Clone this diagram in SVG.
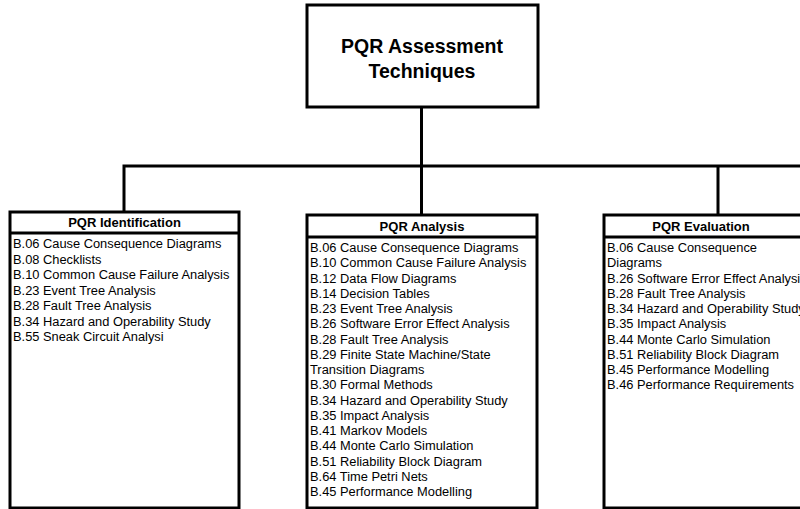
<svg xmlns="http://www.w3.org/2000/svg" width="800" height="509" viewBox="0 0 800 509">
<style>
.box{fill:#fff;stroke:#000;stroke-width:3}
.ln{fill:none;stroke:#000;stroke-width:3}
.t{font-family:"Liberation Sans",Arial,sans-serif;font-size:12.85px;fill:#000}
.h{font-family:"Liberation Sans",Arial,sans-serif;font-size:13px;font-weight:bold;fill:#000;text-anchor:middle}
.title{font-family:"Liberation Sans",Arial,sans-serif;font-size:19.5px;font-weight:bold;fill:#000;text-anchor:middle}
</style>
<rect width="800" height="509" fill="#fff"/>
<g id="connectors">
<path class="ln" d="M421.5,107 V166 M124,214 V166 H810 M421.5,166 V216 M718,166 V216"/>
</g>
<g id="root">
<rect class="box" x="307" y="5" width="231" height="102"/>
<text class="title" x="422" y="53">PQR Assessment</text>
<text class="title" x="422" y="78">Techniques</text>
</g>
<g id="identification">
<rect class="box" x="10" y="212" width="229" height="296"/>
<line class="ln" x1="10" y1="233" x2="239" y2="233"/>
<text class="h" x="124.5" y="227">PQR Identification</text>
<text class="t" x="13" y="248">B.06 Cause Consequence Diagrams</text>
<text class="t" x="13" y="263.5">B.08 Checklists</text>
<text class="t" x="13" y="279">B.10 Common Cause Failure Analysis</text>
<text class="t" x="13" y="294.5">B.23 Event Tree Analysis</text>
<text class="t" x="13" y="310">B.28 Fault Tree Analysis</text>
<text class="t" x="13" y="325.5">B.34 Hazard and Operability Study</text>
<text class="t" x="13" y="341">B.55 Sneak Circuit Analysi</text>
</g>
<g id="analysis">
<rect class="box" x="307" y="215" width="230" height="293"/>
<line class="ln" x1="307" y1="237" x2="537" y2="237"/>
<text class="h" x="422" y="231">PQR Analysis</text>
<text class="t" x="310" y="252">B.06 Cause Consequence Diagrams</text>
<text class="t" x="310" y="267.3">B.10 Common Cause Failure Analysis</text>
<text class="t" x="310" y="282.5">B.12 Data Flow Diagrams</text>
<text class="t" x="310" y="297.8">B.14 Decision Tables</text>
<text class="t" x="310" y="313">B.23 Event Tree Analysis</text>
<text class="t" x="310" y="328.3">B.26 Software Error Effect Analysis</text>
<text class="t" x="310" y="343.5">B.28 Fault Tree Analysis</text>
<text class="t" x="310" y="358.8">B.29 Finite State Machine/State</text>
<text class="t" x="310" y="374">Transition Diagrams</text>
<text class="t" x="310" y="389.3">B.30 Formal Methods</text>
<text class="t" x="310" y="404.5">B.34 Hazard and Operability Study</text>
<text class="t" x="310" y="419.8">B.35 Impact Analysis</text>
<text class="t" x="310" y="435">B.41 Markov Models</text>
<text class="t" x="310" y="450.3">B.44 Monte Carlo Simulation</text>
<text class="t" x="310" y="465.5">B.51 Reliability Block Diagram</text>
<text class="t" x="310" y="480.8">B.64 Time Petri Nets</text>
<text class="t" x="310" y="496">B.45 Performance Modelling</text>
</g>
<g id="evaluation">
<rect class="box" x="604" y="215" width="230" height="293"/>
<line class="ln" x1="604" y1="237" x2="834" y2="237"/>
<text class="h" x="701" y="231">PQR Evaluation</text>
<text class="t" x="607" y="252">B.06 Cause Consequence</text>
<text class="t" x="607" y="267.3">Diagrams</text>
<text class="t" x="607" y="282.5">B.26 Software Error Effect Analysis</text>
<text class="t" x="607" y="297.8">B.28 Fault Tree Analysis</text>
<text class="t" x="607" y="313">B.34 Hazard and Operability Study</text>
<text class="t" x="607" y="328.3">B.35 Impact Analysis</text>
<text class="t" x="607" y="343.5">B.44 Monte Carlo Simulation</text>
<text class="t" x="607" y="358.8">B.51 Reliability Block Diagram</text>
<text class="t" x="607" y="374">B.45 Performance Modelling</text>
<text class="t" x="607" y="389.3">B.46 Performance Requirements</text>
</g>
</svg>
